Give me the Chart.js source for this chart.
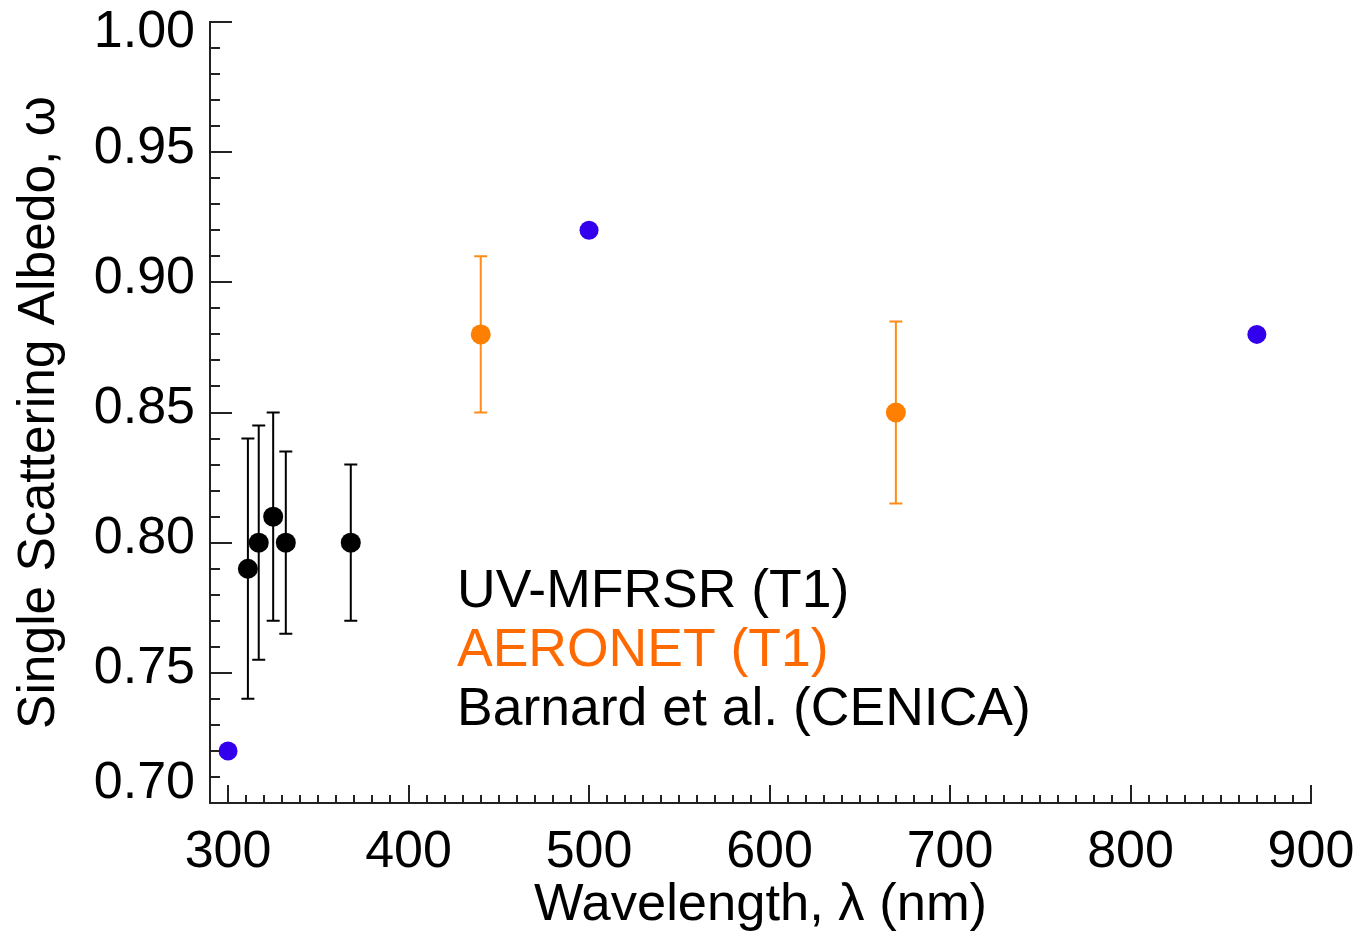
<!DOCTYPE html>
<html>
<head>
<meta charset="utf-8">
<script src="https://cdn.jsdelivr.net/npm/chart.js@4/dist/chart.umd.min.js"></script>
<style>
  html, body { margin: 0; padding: 0; background: #fff; }
  #wrap { width: 1356px; height: 933px; }
</style>
</head>
<body>
<div id="wrap"><canvas id="albedoChart"></canvas></div>
<script>
// ==========================
// DỮ LIỆU
// ==========================
const mfrsrWl = [311, 317, 325, 332, 368];
const mfrsrSsa = [0.79, 0.80, 0.81, 0.80, 0.80];
const mfrsrLow = [0.74, 0.755, 0.77, 0.765, 0.77];
const mfrsrHigh = [0.84, 0.845, 0.85, 0.835, 0.83];

const aeronetWl = [440, 670];
const aeronetSsa = [0.88, 0.85];
const aeronetLow = [0.85, 0.815];
const aeronetHigh = [0.91, 0.885];

const barnardWl = [300, 500, 870];
const barnardSsa = [0.72, 0.92, 0.88];

const legendLines = ["UV-MFRSR (T1)", "AERONET (T1)", "Barnard et al. (CENICA)"];
const legendColors = ["#000000", "#ff6a00", "#000000"];

const FONT = "'Liberation Sans', Arial, Helvetica, sans-serif";
const AXIS_COLOR = "#222";

function toPoints(xs, ys) {
  return xs.map((x, i) => ({ x: x, y: ys[i] }));
}

// ==========================
// PLUGIN: THANH SAI SỐ
// ==========================
const errorBars = {
  id: "errorBars",
  beforeDatasetsDraw(chart) {
    const { ctx, scales } = chart;
    chart.data.datasets.forEach(ds => {
      if (!ds.errLow) return;
      ctx.save();
      ctx.strokeStyle = ds.errColor;
      ctx.lineWidth = 2;
      ds.data.forEach((p, i) => {
        const x = scales.x.getPixelForValue(p.x);
        const y1 = scales.y.getPixelForValue(ds.errLow[i]);
        const y2 = scales.y.getPixelForValue(ds.errHigh[i]);
        ctx.beginPath();
        ctx.moveTo(x, y1); ctx.lineTo(x, y2);
        ctx.moveTo(x - 6.5, y1); ctx.lineTo(x + 6.5, y1);
        ctx.moveTo(x - 6.5, y2); ctx.lineTo(x + 6.5, y2);
        ctx.stroke();
      });
      ctx.restore();
    });
  }
};

// ==========================
// PLUGIN: VẠCH CHIA HƯỚNG VÀO TRONG + CHÚ THÍCH
// ==========================
const inwardTicks = {
  id: "inwardTicks",
  afterDraw(chart) {
    const { ctx, chartArea, scales } = chart;
    ctx.save();
    ctx.strokeStyle = AXIS_COLOR;
    ctx.lineWidth = 2;
    ctx.beginPath();
    scales.x.ticks.forEach(t => {
      if (t.value <= scales.x.min) return;
      const major = Math.round(t.value) % 100 === 0;
      const x = Math.round(scales.x.getPixelForValue(t.value));
      ctx.moveTo(x, chartArea.bottom);
      ctx.lineTo(x, chartArea.bottom - (major ? 18 : 8));
    });
    scales.y.ticks.forEach(t => {
      if (t.value <= scales.y.min + 1e-6) return;
      const major = Math.round(t.value * 100) % 5 === 0;
      const y = Math.round(scales.y.getPixelForValue(t.value));
      ctx.moveTo(chartArea.left, y);
      ctx.lineTo(chartArea.left + (major ? 22 : 10), y);
    });
    ctx.stroke();

    // chú thích dạng chữ
    ctx.font = "53.5px " + FONT;
    ctx.textBaseline = "alphabetic";
    ctx.textAlign = "left";
    legendLines.forEach((txt, i) => {
      ctx.fillStyle = legendColors[i];
      ctx.fillText(txt, chartArea.left + 247, chartArea.top + 585 + i * 59);
    });
    ctx.restore();
  }
};

// ==========================
// VẼ BIỂU ĐỒ
// ==========================
const ctx = document.getElementById("albedoChart").getContext("2d");

new Chart(ctx, {
  type: "scatter",
  data: {
    datasets: [
      {
        label: "UV-MFRSR (T1)",
        data: toPoints(mfrsrWl, mfrsrSsa),
        errLow: mfrsrLow,
        errHigh: mfrsrHigh,
        errColor: "#000000",
        backgroundColor: "#000000",
        borderWidth: 0,
        pointRadius: 10
      },
      {
        label: "AERONET (T1)",
        data: toPoints(aeronetWl, aeronetSsa),
        errLow: aeronetLow,
        errHigh: aeronetHigh,
        errColor: "#ff8c1a",
        backgroundColor: "#ff8000",
        borderWidth: 0,
        pointRadius: 10
      },
      {
        label: "Barnard et al. (CENICA)",
        data: toPoints(barnardWl, barnardSsa),
        backgroundColor: "#3300ee",
        borderWidth: 0,
        pointRadius: 9.5
      }
    ]
  },
  options: {
    responsive: true,
    maintainAspectRatio: false,
    animation: false,
    layout: { padding: { top: 22, right: 45, left: 0, bottom: 0 } },
    plugins: {
      legend: { display: false },
      tooltip: { enabled: false }
    },
    scales: {
      x: {
        type: "linear",
        min: 290,
        max: 900,
        afterFit: s => {
          s.height = 130;
          s.paddingLeft = 0;
          s.paddingRight = 0;
        },
        border: { display: true, color: AXIS_COLOR, width: 2 },
        grid: { display: false, drawTicks: false },
        ticks: {
          stepSize: 10,
          maxTicksLimit: 100,
          autoSkip: false,
          maxRotation: 0,
          padding: 18,
          color: "#000",
          font: { family: FONT, size: 52 },
          callback: v => (Math.round(v) % 100 === 0 ? String(v) : "")
        },
        title: {
          display: true,
          text: "Wavelength, \u03bb (nm)",
          color: "#000",
          font: { family: FONT, size: 52.5 },
          padding: { top: 0, bottom: -4 }
        }
      },
      y: {
        type: "linear",
        min: 0.70,
        max: 1.00,
        afterFit: s => {
          s.width = 210;
          s.paddingTop = 0;
          s.paddingBottom = 0;
        },
        border: { display: true, color: AXIS_COLOR, width: 2 },
        grid: { display: false, drawTicks: false },
        ticks: {
          stepSize: 0.01,
          maxTicksLimit: 100,
          autoSkip: false,
          padding: 15,
          labelOffset: -4,
          color: "#000",
          font: c => {
            const v = c.tick ? c.tick.value : 0;
            const end = Math.abs(v - 1.0) < 1e-6 || Math.abs(v - 0.7) < 1e-6;
            return { family: FONT, size: 52, lineHeight: end ? "30px" : 1.2 };
          },
          callback: v => {
            if (Math.round(v * 100) % 5 !== 0) return "";
            const s = v.toFixed(2);
            if (Math.abs(v - 1.0) < 1e-6) return ["", s];
            if (Math.abs(v - 0.7) < 1e-6) return [s, ""];
            return s;
          }
        },
        title: {
          display: true,
          text: "Single Scattering Albedo, \u03c9",
          color: "#000",
          font: { family: FONT, size: 51.5 },
          padding: { top: 9, bottom: 0 }
        }
      }
    }
  },
  plugins: [errorBars, inwardTicks]
});
</script>
</body>
</html>
